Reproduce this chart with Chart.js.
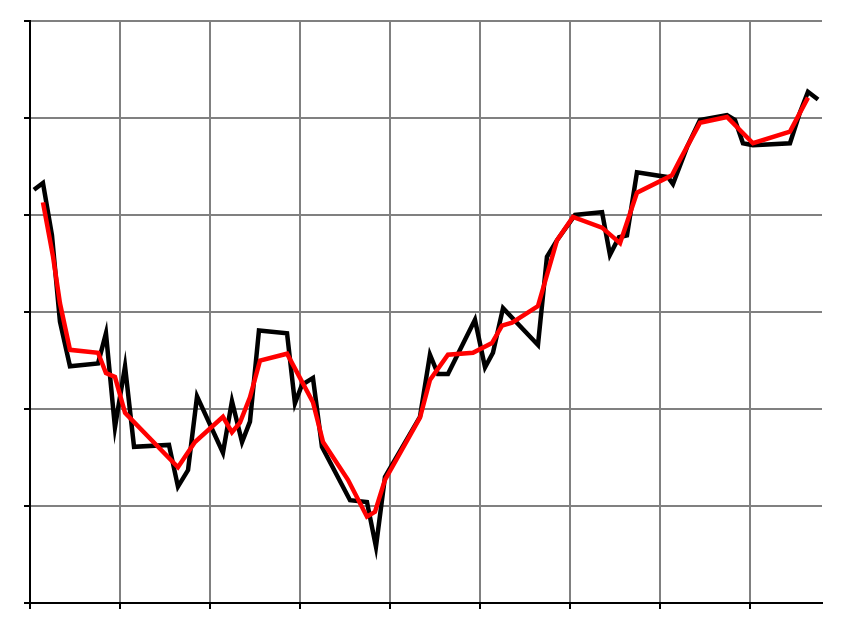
<!DOCTYPE html>
<html lang="en">
<head>
    <meta charset="UTF-8">
    <title>Price and smoothed line</title>
    <script src="https://cdn.jsdelivr.net/npm/chart.js"></script>
    <style>
        html, body { margin: 0; padding: 0; background: #fff; }
        #chart { display: block; }
    </style>
</head>
<body>
    <canvas id="chart" width="844" height="621"></canvas>

    <script>
        // raw series (black)
        const rawX = [0.044, 0.144, 0.244, 0.333, 0.444, 0.756, 0.844, 0.944, 1.056, 1.156,
            1.544, 1.644, 1.756, 1.856, 2.144, 2.244, 2.356, 2.444, 2.544, 2.856,
            2.944, 3.022, 3.144, 3.244, 3.556, 3.744, 3.844, 3.944, 4.333, 4.444,
            4.533, 4.644, 4.944, 5.056, 5.144, 5.256, 5.644, 5.744, 5.856, 6.056,
            6.356, 6.444, 6.544, 6.633, 6.744, 7.089, 7.144, 7.300, 7.444, 7.744,
            7.833, 7.922, 8.033, 8.444, 8.556, 8.644, 8.756];
        const rawY = [4.26, 4.33, 3.79, 2.90, 2.44, 2.47, 2.78, 1.81, 2.44, 1.61,
            1.63, 1.20, 1.37, 2.13, 1.55, 2.08, 1.66, 1.87, 2.81, 2.78,
            2.06, 2.25, 2.32, 1.61, 1.06, 1.04, 0.58, 1.30, 1.92, 2.56,
            2.36, 2.36, 2.92, 2.43, 2.58, 3.04, 2.66, 3.57, 3.74, 4.00,
            4.03, 3.59, 3.77, 3.79, 4.44, 4.39, 4.32, 4.70, 4.98, 5.03,
            4.98, 4.74, 4.72, 4.74, 5.06, 5.27, 5.19];

        // smoothed series (red)
        const smoothX = [0.144, 0.256, 0.333, 0.444, 0.756, 0.844, 0.944, 1.056, 1.644, 1.833,
            2.144, 2.244, 2.333, 2.444, 2.556, 2.856, 3.144, 3.256, 3.533, 3.744,
            3.833, 3.944, 4.333, 4.444, 4.644, 4.922, 5.133, 5.244, 5.356, 5.644,
            5.856, 6.033, 6.356, 6.556, 6.744, 7.133, 7.222, 7.444, 7.744, 8.033,
            8.444, 8.644];
        const smoothY = [4.13, 3.57, 3.09, 2.61, 2.58, 2.37, 2.33, 1.96, 1.40, 1.66,
            1.92, 1.76, 1.86, 2.12, 2.50, 2.57, 2.07, 1.66, 1.27, 0.89,
            0.94, 1.27, 1.91, 2.30, 2.56, 2.58, 2.68, 2.86, 2.89, 3.06,
            3.74, 3.98, 3.87, 3.71, 4.23, 4.41, 4.57, 4.95, 5.01, 4.74,
            4.86, 5.21];

        const xTicks = [0, 1, 2, 3, 4, 5, 6, 7, 8];
        const yTicks = [0, 1, 2, 3, 4, 5, 6];

        function toPoints(xs, ys) {
            return xs.map((x, i) => ({ x: x, y: ys[i] }));
        }

        const axisStyle = {
            grid: { color: '#808080', lineWidth: 2, tickColor: '#000', tickWidth: 2, tickLength: 6 },
            border: { color: '#000', width: 2 },
            ticks: { display: false }
        };

        new Chart(document.getElementById('chart'), {
            type: 'line',
            data: {
                datasets: [
                    {
                        label: 'smoothed',
                        data: toPoints(smoothX, smoothY),
                        borderColor: '#ff0000',
                        borderWidth: 4.5,
                        pointRadius: 0,
                        tension: 0
                    },
                    {
                        label: 'raw',
                        data: toPoints(rawX, rawY),
                        borderColor: '#000000',
                        borderWidth: 4.5,
                        pointRadius: 0,
                        tension: 0
                    }
                ]
            },
            options: {
                responsive: false,
                animation: false,
                layout: { padding: { top: 21, right: 22, left: 0, bottom: 0 } },
                plugins: { legend: { display: false }, tooltip: { enabled: false } },
                scales: {
                    x: Object.assign({
                        type: 'linear',
                        min: 0,
                        max: 8.8,
                        afterBuildTicks: s => { s.ticks = xTicks.map(v => ({ value: v })); },
                        afterFit: s => { s.height = 18; }
                    }, axisStyle),
                    y: Object.assign({
                        type: 'linear',
                        min: 0,
                        max: 6,
                        afterBuildTicks: s => { s.ticks = yTicks.map(v => ({ value: v })); },
                        afterFit: s => { s.width = 30; }
                    }, axisStyle)
                }
            }
        });
    </script>
</body>
</html>
